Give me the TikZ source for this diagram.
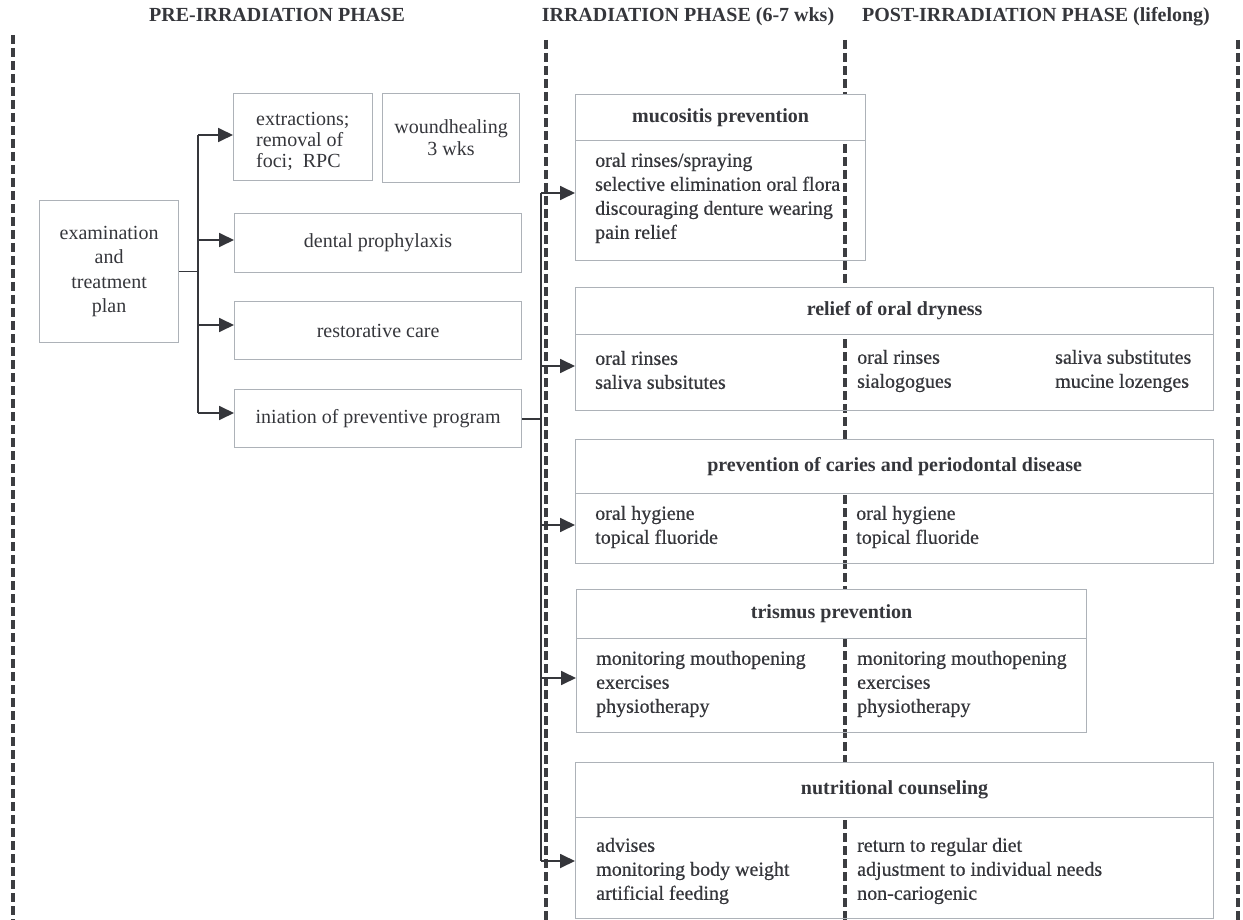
\documentclass[tikz,border=0pt]{standalone}
\usepackage{fontspec}
\setmainfont{Liberation Serif}
\newfontfamily\semib[FakeBold=0.6]{Liberation Serif}
\usetikzlibrary{arrows.meta}
\definecolor{ink}{HTML}{35363B}
\definecolor{edge}{HTML}{ADB2B8}
\definecolor{dashc}{HTML}{3C3D41}
\begin{document}
\begin{tikzpicture}[x=1pt,y=-1pt,
  every node/.style={text=ink, font=\fontsize{20}{24}\selectfont},
  box/.style={draw=edge, line width=1.2pt, anchor=north west, inner sep=0pt, align=center},
  hdr/.style={box, fill=white, font=\fontsize{20}{24}\selectfont\bfseries},
  txt/.style={anchor=west, inner sep=0pt, align=left, font=\semib\fontsize{20}{24}\selectfont},
  phase/.style={font=\fontsize{20}{24}\selectfont\bfseries, inner sep=0pt, anchor=base},
  divline/.style={draw=dashc, line width=3.4pt, dash pattern=on 9pt off 4pt},
  conn/.style={draw=ink, line width=1.8pt},
  arr/.style={conn, -{Triangle[length=15pt,width=14pt]}},
]
\useasboundingbox (0,0) rectangle (1243,920);

% phase headings
\node[phase] (ph1) at (277,22) {PRE-IRRADIATION PHASE};
\node[phase] (ph2) at (688,22) {IRRADIATION PHASE (6-7 wks)};
\node[phase] (ph3) at (1036,22) {POST-IRRADIATION PHASE (lifelong)};

% phase dividers
\coordinate (d1t) at (13,35);   \coordinate (d1b) at (13,920);
\coordinate (d2t) at (546,40);  \coordinate (d2b) at (546,920);
\coordinate (d3t) at (845,40);  \coordinate (d3b) at (845,920);
\coordinate (d4t) at (1238,40); \coordinate (d4b) at (1238,920);
\draw[divline] (d1t) -- (d1b);
\draw[divline] (d2t) -- (d2b);
\draw[divline] (d3t) -- (d3b);
\draw[divline] (d4t) -- (d4b);

% pre-irradiation boxes
\node[box, minimum width=139pt, minimum height=142pt, font=\fontsize{20}{24.5}\selectfont] (exam) at (39,200) {examination\\and\\treatment\\plan};
\node[box, minimum width=139pt, minimum height=87pt] (ext) at (233,93) {};
\node[txt, font=\fontsize{20}{21}\selectfont] (extT) at (256,141) {extractions;\\removal of\\foci;\ \ RPC};
\node[box, minimum width=137pt, minimum height=89pt, font=\fontsize{20}{22}\selectfont] (wound) at (382,93) {woundhealing\\3 wks};
\node[box, minimum width=287pt, minimum height=59pt] (dent) at (234,213) {dental prophylaxis};
\node[box, minimum width=287pt, minimum height=58pt] (rest) at (234,301) {restorative care};
\node[box, minimum width=287pt, minimum height=58pt] (init) at (234,389) {iniation of preventive program};

% left bus
\coordinate (lbA) at (198,135);
\coordinate (lbB) at (198,240);
\coordinate (lbC) at (198,325);
\coordinate (lbD) at (198,413);
\draw[conn] (exam.east) -- (exam.east -| lbA);
\draw[conn] (lbA) -- (lbD);
\draw[arr] (lbA) -- (ext.west |- lbA);
\draw[arr] (lbB) -- (dent.west |- lbB);
\draw[arr] (lbC) -- (rest.west |- lbC);
\draw[arr] (lbD) -- (init.west |- lbD);

% right boxes: bodies
\node[box, minimum width=290pt, minimum height=120pt] (mucB) at (575,140) {};
\node[box, minimum width=638pt, minimum height=76pt] (relB) at (575,334) {};
\node[box, minimum width=638pt, minimum height=70pt] (preB) at (575,493) {};
\node[box, minimum width=510pt, minimum height=94pt] (triB) at (576,638) {};
\node[box, minimum width=638pt, minimum height=101pt] (nutB) at (575,817) {};

% right boxes: headers
\node[hdr, minimum width=290pt, minimum height=46pt] (mucH) at (575,94) {mucositis prevention};
\node[hdr, minimum width=638pt, minimum height=47pt] (relH) at (575,287) {relief of oral dryness};
\node[hdr, minimum width=638pt, minimum height=54pt] (preH) at (575,439) {prevention of caries and periodontal disease};
\node[hdr, minimum width=510pt, minimum height=49pt] (triH) at (576,589) {trismus prevention};
\node[hdr, minimum width=638pt, minimum height=55pt] (nutH) at (575,762) {nutritional counseling};

% right box contents
\node[txt] (mucT) at (595,198) {oral rinses/spraying\\selective elimination oral flora\\discouraging denture wearing\\pain relief};
\node[txt] (relL) at (595,370) {oral rinses\\saliva subsitutes};
\node[txt] (relM) at (857,371) {oral rinses\\sialogogues};
\node[txt] (relR) at (1055,371) {saliva substitutes\\mucine lozenges};
\node[txt] (preL) at (595,527) {oral hygiene\\topical fluoride};
\node[txt] (preR) at (856,527) {oral hygiene\\topical fluoride};
\node[txt] (triL) at (596,684) {monitoring mouthopening\\exercises\\physiotherapy};
\node[txt] (triR) at (857,684) {monitoring mouthopening\\exercises\\physiotherapy};
\node[txt] (nutL) at (596,871) {advises\\monitoring body weight\\artificial feeding};
\node[txt] (nutR) at (857,871) {return to regular diet\\adjustment to individual needs\\non-cariogenic};

% right bus
\coordinate (rbA) at (541,193);
\coordinate (rbB) at (541,366);
\coordinate (rbC) at (541,525);
\coordinate (rbD) at (541,678);
\coordinate (rbE) at (541,861);
\draw[conn] (init.east) -- (init.east -| rbA);
\draw[conn] (rbA) -- (rbE);
\draw[arr] (rbA) -- (mucB.west |- rbA);
\draw[arr] (rbB) -- (relB.west |- rbB);
\draw[arr] (rbC) -- (preB.west |- rbC);
\draw[arr] (rbD) -- (triB.west |- rbD);
\draw[arr] (rbE) -- (nutB.west |- rbE);
\end{tikzpicture}
\end{document}
